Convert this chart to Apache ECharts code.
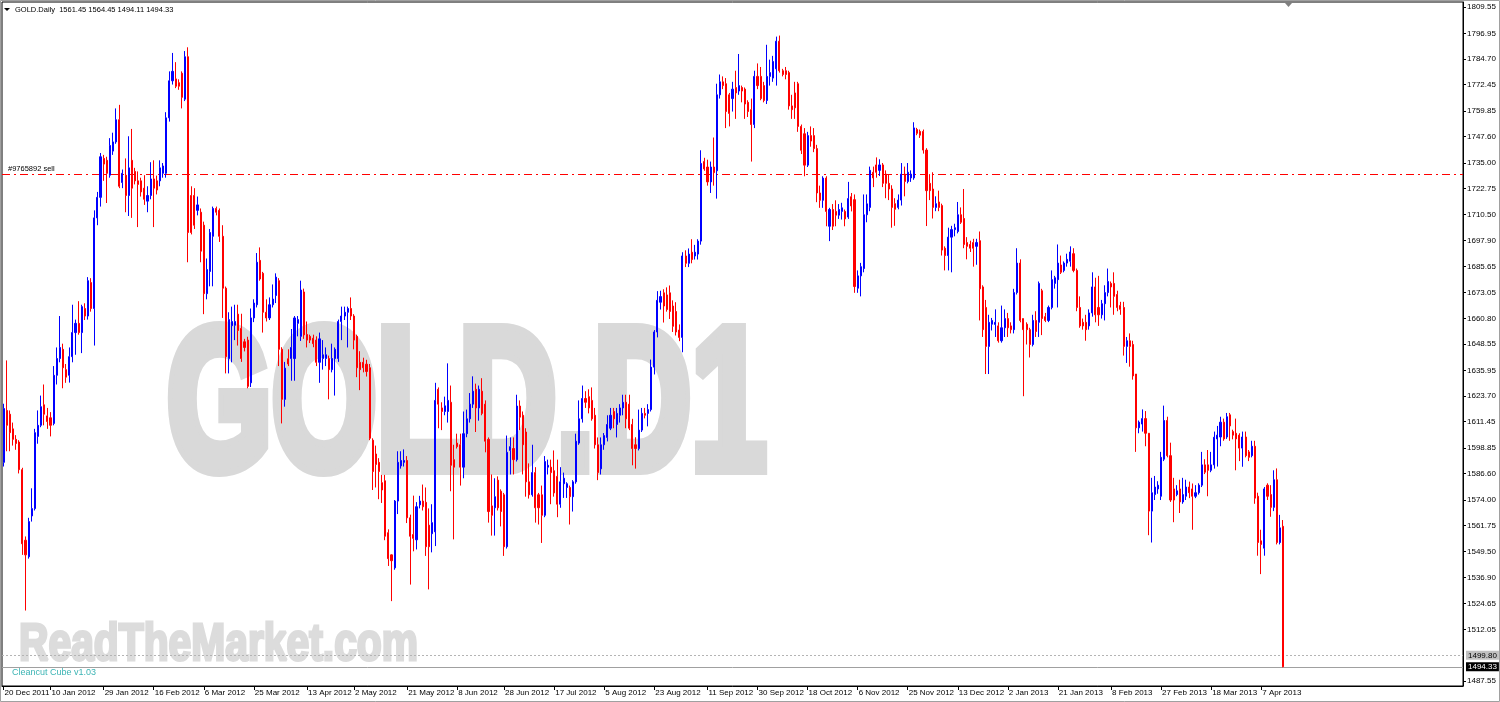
<!DOCTYPE html>
<html><head><meta charset="utf-8">
<script src="https://cdn.jsdelivr.net/npm/echarts@6/dist/echarts.min.js"></script>
<style>html,body{margin:0;padding:0;background:#fff}#c{width:1500px;height:702px}</style>
</head><body><div id="c"></div>
<script>
// rows: [open, high, low, close]
const barsA = [
[1592.0,1620.0,1590.0,1617.7],[1616.8,1640.7,1597.3,1609.7],[1615.0,1616.8,1597.3,1606.2],[1608.0,1611.0,1600.0,1603.0],[1603.0,1605.0,1598.0,1601.0],
[1601.7,1602.6,1586.7,1588.5],[1588.5,1589.4,1547.8,1553.1],[1554.8,1556.6,1521.2,1547.8],[1546.9,1565.5,1546.0,1563.7],[1566.4,1579.6,1563.7,1569.9],
[1569.9,1608.0,1569.0,1606.2],[1604.4,1616.8,1600.9,1609.7],[1609.7,1623.9,1608.8,1618.6],[1619.5,1629.2,1609.7,1615.0],[1614.2,1618.0,1608.0,1611.5],
[1613.3,1616.0,1604.4,1609.7],[1610.6,1638.0,1609.7,1633.6],[1633.6,1646.9,1629.2,1641.6],[1641.6,1661.9,1639.8,1646.9],[1646.0,1648.7,1627.4,1637.2],
[1636.3,1639.0,1630.0,1632.7],[1633.6,1646.9,1630.1,1642.5],[1642.5,1667.3,1639.8,1654.0],[1654.0,1660.2,1643.4,1658.4],[1658.4,1669.0,1653.0,1654.0],
[1654.0,1667.3,1644.2,1666.4],[1665.5,1668.0,1660.0,1661.9],[1661.9,1680.5,1660.2,1678.8],[1677.9,1680.0,1664.0,1665.5],[1665.5,1712.4,1647.8,1708.8],
[1708.8,1721.2,1705.3,1718.6],[1718.6,1739.8,1714.2,1738.0],[1737.2,1738.9,1726.5,1734.5],[1736.3,1738.0,1715.9,1730.1],[1729.2,1746.9,1728.0,1743.4],
[1740.7,1749.5,1738.9,1745.1],[1745.1,1761.1,1744.2,1755.7],[1755.7,1762.8,1723.0,1723.9],[1725.7,1731.9,1723.0,1730.1],[1729.2,1737.2,1711.5,1719.5],
[1719.5,1747.8,1709.7,1732.7],[1736.3,1751.3,1708.8,1723.0],[1731.0,1732.7,1724.8,1726.5],[1726.5,1731.0,1704.4,1724.8],[1726.5,1728.0,1719.0,1721.2],
[1723.0,1729.2,1715.0,1717.7],[1716.8,1723.9,1711.5,1719.5],[1719.5,1735.4,1717.7,1727.4],[1727.4,1736.3,1704.4,1723.0],[1726.5,1729.0,1720.0,1722.1],
[1726.5,1736.3,1723.9,1732.7],[1730.1,1735.0,1728.0,1733.6],[1730.1,1759.3,1728.0,1756.6],[1756.6,1778.8,1754.8,1774.3],[1774.3,1787.6,1772.5,1778.8],
[1775.2,1783.2,1770.8,1771.7],[1773.4,1775.0,1770.0,1771.7],[1777.9,1778.8,1761.1,1766.4],[1765.5,1788.5,1764.6,1785.8],[1785.8,1790.3,1687.6,1701.8],
[1719.5,1723.9,1700.9,1701.8],[1719.5,1723.0,1703.5,1705.3],[1712.4,1719.0,1710.0,1715.0],[1711.5,1713.3,1687.6,1692.9],[1705.3,1707.0,1662.8,1672.6],
[1672.6,1689.4,1669.9,1684.1],[1683.2,1703.5,1676.1,1701.8],[1700.0,1714.2,1676.1,1713.3],[1713.3,1714.2,1710.0,1711.5],[1712.4,1713.3,1697.3,1700.0],
[1700.0,1705.3,1661.0,1675.2],[1675.2,1676.0,1634.5,1642.5],[1641.6,1663.7,1634.5,1660.2],[1657.3,1666.4,1639.8,1659.3],[1657.5,1667.3,1650.4,1659.3],
[1662.8,1667.3,1647.8,1655.0],[1656.0,1663.0,1640.0,1641.6],[1649.6,1651.0,1645.0,1646.9],[1650.4,1652.0,1627.4,1628.3],[1630.0,1665.5,1628.0,1661.0],
[1661.0,1669.9,1659.0,1668.1],[1667.3,1692.0,1666.0,1687.6],[1688.5,1694.7,1678.8,1679.6],[1682.3,1683.0,1654.0,1663.7],[1663.7,1669.9,1659.3,1661.0],
[1661.0,1670.8,1660.0,1667.3],[1667.3,1677.0,1666.0,1670.0],[1671.7,1682.3,1668.1,1680.5],[1678.8,1680.0,1638.0,1646.0],[1646.0,1647.0,1610.6,1622.1],
[1622.1,1640.0,1618.6,1637.0],[1641.5,1646.0,1638.0,1639.0],[1641.6,1655.7,1631.0,1646.9],[1641.6,1661.9,1631.0,1661.0],[1658.4,1661.9,1652.2,1660.2],
[1652.2,1678.8,1650.0,1674.3],[1673.4,1675.0,1651.0,1652.9],[1653.1,1659.3,1646.9,1650.4],[1652.2,1653.0,1649.0,1650.4],[1651.3,1653.0,1647.0,1648.7],
[1650.4,1652.2,1638.0,1639.8],[1639.8,1654.0,1630.0,1651.0],[1641.6,1650.4,1636.3,1643.4],[1641.6,1646.9,1638.0,1643.4],[1641.6,1643.0,1622.1,1636.3],
[1636.3,1648.7,1635.0,1641.6],[1641.6,1646.9,1623.9,1646.0],[1641.6,1660.2,1640.0,1659.3],[1659.3,1666.4,1650.4,1661.9],[1661.9,1666.4,1660.0,1663.7],
[1663.7,1666.4,1646.9,1665.5],[1665.5,1670.8,1660.0,1661.9],[1661.9,1662.8,1646.0,1650.4],[1652.2,1653.0,1632.7,1637.2],[1639.8,1645.1,1626.5,1636.3],
[1639.8,1642.0,1635.0,1637.2],[1638.9,1641.0,1633.0,1635.4],[1637.2,1639.0,1602.6,1603.5],[1602.6,1603.5,1578.8,1587.6],[1596.0,1600.0,1580.0,1591.0],
[1592.0,1594.0,1574.4,1587.6],[1582.3,1586.0,1572.6,1578.8],[1583.2,1586.0,1554.8,1556.7],[1558.4,1560.0,1542.5,1546.0],[1547.8,1548.0,1525.7,1545.0],
[1541.6,1574.0,1540.7,1573.5],[1573.5,1597.3,1567.3,1592.0],[1590.3,1597.3,1589.0,1592.9],[1592.0,1598.2,1590.0,1592.9],[1592.9,1595.0,1563.0,1565.5],
[1565.5,1567.0,1533.6,1556.7],[1557.5,1576.1,1549.5,1555.7],[1555.0,1573.0,1550.4,1570.8],[1571.7,1576.0,1570.0,1573.5],[1573.5,1581.4,1569.0,1570.8]
];
const barsB = [
[1572.9,1580.0,1547.3,1551.7],[1562.0,1570.0,1531.3,1551.7],[1557.9,1572.0,1549.0,1563.2],[1558.8,1630.0,1552.0,1621.6],[1626.9,1627.8,1608.3,1619.8],
[1618.0,1620.7,1607.4,1616.3],[1616.3,1623.4,1614.5,1619.0],[1616.3,1639.3,1611.0,1621.6],[1620.7,1628.7,1578.2,1590.6],[1593.3,1600.4,1555.2,1589.7],
[1601.2,1605.7,1598.6,1599.5],[1600.4,1605.7,1580.9,1589.7],[1589.7,1616.3,1584.4,1605.7],[1605.7,1617.2,1604.0,1612.8],[1612.8,1625.1,1611.0,1619.8],
[1619.8,1633.1,1618.0,1626.0],[1626.9,1629.6,1606.5,1618.0],[1618.0,1628.7,1611.9,1626.9],[1626.0,1632.2,1614.5,1615.4],[1619.8,1621.6,1596.8,1602.1],
[1603.0,1603.9,1563.2,1568.5],[1571.2,1586.2,1557.0,1566.7],[1570.3,1584.4,1557.0,1575.6],[1583.5,1585.3,1569.0,1570.3],[1578.2,1579.1,1561.4,1568.5],
[1576.5,1577.4,1547.3,1551.7],[1551.7,1604.8,1550.8,1596.8],[1597.7,1603.9,1586.2,1599.5],[1598.6,1603.9,1586.2,1593.3],[1593.3,1624.3,1592.4,1618.9],
[1618.9,1621.6,1607.4,1613.6],[1614.5,1616.3,1586.2,1600.4],[1606.5,1608.3,1575.6,1582.7],[1582.7,1591.5,1574.7,1576.5],[1576.5,1600.4,1575.6,1587.1],
[1587.1,1589.7,1563.2,1570.3],[1576.5,1577.4,1562.3,1570.3],[1576.5,1580.9,1553.5,1566.7],[1566.7,1595.0,1565.8,1592.4],[1589.7,1593.3,1586.2,1590.6],
[1589.7,1593.3,1572.0,1587.1],[1588.0,1597.7,1575.6,1577.4],[1585.3,1593.3,1565.8,1572.0],[1572.0,1589.7,1570.3,1582.7],[1581.8,1587.1,1575.0,1584.4],
[1580.0,1582.5,1575.0,1581.8],[1580.0,1580.9,1562.3,1575.6],[1575.6,1583.5,1568.5,1582.7],[1582.7,1605.7,1581.8,1602.1],[1601.2,1621.6,1600.4,1612.8],
[1612.8,1628.7,1611.0,1622.5],[1622.5,1626.0,1618.0,1620.7],[1623.4,1626.9,1615.4,1618.0],[1621.6,1627.8,1611.9,1612.8],[1614.5,1618.0,1598.6,1600.4],
[1600.4,1603.9,1583.5,1587.1],[1588.9,1603.9,1586.2,1600.4],[1600.4,1606.0,1598.0,1604.8],[1603.9,1614.5,1602.0,1610.1],[1608.3,1618.0,1607.4,1614.5],
[1616.3,1618.0,1608.3,1612.8],[1610.1,1618.0,1603.9,1615.4],[1614.5,1619.8,1611.0,1618.0],[1618.0,1624.3,1614.5,1620.7],[1620.7,1624.3,1608.3,1612.8],
[1619.8,1624.3,1607.4,1608.3],[1610.1,1612.8,1590.6,1598.6],[1600.4,1604.0,1589.0,1598.6],[1598.6,1617.2,1597.7,1607.4],[1607.4,1618.0,1606.5,1615.4],
[1615.4,1618.0,1613.0,1614.5],[1615.4,1619.8,1609.2,1617.2],[1617.2,1641.1,1616.3,1637.5],[1637.5,1655.2,1634.0,1654.3],[1654.3,1673.8,1651.7,1669.4],
[1668.5,1674.0,1665.0,1671.2],[1673.0,1674.7,1658.8,1666.7],[1672.0,1675.6,1664.0,1665.0],[1673.0,1676.5,1660.5,1664.1],[1666.7,1669.4,1654.3,1657.0],
[1664.1,1668.5,1652.6,1654.3],[1655.2,1657.9,1649.9,1651.7],[1651.7,1692.4,1644.6,1690.6],[1690.6,1693.3,1685.3,1687.1],[1687.1,1694.2,1685.3,1691.5],
[1692.4,1698.6,1687.1,1688.9],[1690.6,1695.9,1688.9,1692.4],[1691.5,1698.6,1688.9,1697.7],[1697.7,1741.1,1696.0,1734.8],[1735.7,1737.5,1731.3,1732.2],
[1733.1,1736.6,1724.2,1726.0],[1726.0,1735.7,1720.7,1733.1],[1733.1,1747.2,1724.2,1730.4],[1731.3,1772.9,1718.0,1767.6],[1767.6,1777.3,1765.8,1773.8],
[1773.8,1776.4,1770.3,1772.0],[1772.9,1775.6,1751.7,1759.6],[1767.6,1768.5,1752.5,1758.7],[1765.8,1773.8,1759.6,1770.3],[1771.1,1779.1,1756.1,1768.5],
[1769.4,1787.1,1767.6,1772.0],[1771.1,1772.0,1764.0,1769.4],[1770.3,1771.1,1756.1,1763.2],[1764.0,1765.0,1757.0,1759.6],[1760.5,1765.8,1735.7,1753.4],
[1753.4,1779.1,1751.7,1776.4],[1776.4,1782.6,1770.3,1772.0],[1776.4,1780.9,1765.0,1765.8],[1772.0,1773.8,1764.0,1764.9],[1764.9,1791.5,1763.2,1776.4],
[1776.4,1784.4,1772.0,1778.2],[1775.6,1786.2,1773.8,1783.5],[1780.0,1795.4,1772.0,1793.2],[1793.2,1795.9,1778.2,1779.1],[1779.1,1780.0,1776.4,1777.3],
[1779.1,1780.9,1775.0,1777.3],[1778.2,1779.1,1760.5,1762.3],[1762.3,1767.6,1756.1,1760.5],[1768.5,1773.8,1756.1,1761.4],[1772.9,1773.8,1749.9,1752.5],
[1752.5,1753.4,1739.3,1741.1],[1749.0,1751.7,1728.7,1734.0],[1734.0,1749.9,1733.1,1748.1],[1748.1,1752.5,1742.8,1745.5],[1748.1,1751.7,1740.2,1741.9],
[1741.9,1743.7,1716.3,1720.7],[1720.7,1724.2,1713.6,1717.2],[1717.2,1728.7,1713.6,1727.8],[1727.8,1728.7,1704.8,1711.9],[1704.8,1713.6,1697.7,1712.8],
[1712.8,1715.4,1703.0,1704.8],[1711.9,1717.2,1704.8,1710.1],[1710.1,1715.4,1708.3,1712.8],[1711.9,1716.0,1708.0,1713.6],[1711.9,1712.8,1704.8,1708.3],
[1709.2,1726.0,1708.3,1718.0],[1718.9,1720.7,1711.9,1714.5],[1717.5,1720.0,1673.0,1676.0]
];
const barsC = [
[1675.2,1683.7,1673.0,1681.1],[1681.1,1687.3,1671.3,1685.5],[1684.6,1720.0,1682.8,1710.3],[1710.3,1720.0,1706.7,1715.5],[1713.8,1733.3,1712.0,1731.5],
[1730.6,1733.3,1723.5,1727.9],[1734.1,1737.7,1728.0,1730.6],[1731.5,1736.8,1728.8,1734.1],[1734.1,1735.0,1723.5,1725.3],[1729.7,1731.5,1718.2,1725.3],
[1725.3,1729.7,1717.3,1722.6],[1722.6,1724.4,1704.1,1713.8],[1715.6,1718.2,1705.0,1712.9],[1713.8,1720.0,1712.9,1717.3],[1717.3,1735.0,1714.7,1729.7],
[1729.7,1733.3,1719.1,1726.2],[1726.2,1735.0,1725.3,1730.6],[1727.9,1731.5,1726.0,1729.7],[1727.9,1754.5,1727.0,1751.8],[1751.0,1751.8,1748.3,1749.2],
[1750.1,1751.0,1747.0,1748.3],[1750.1,1751.0,1739.5,1741.2],[1741.2,1742.1,1704.9,1721.8],[1725.3,1729.7,1717.3,1721.8],[1722.6,1730.6,1708.5,1713.8],
[1713.8,1719.1,1712.0,1715.6],[1716.4,1721.8,1712.0,1713.8],[1714.7,1715.6,1690.8,1693.4],[1694.3,1695.2,1683.7,1690.8],[1690.8,1704.1,1683.7,1699.6],
[1699.6,1705.0,1682.8,1703.2],[1703.2,1706.0,1700.0,1704.1],[1702.3,1716.4,1701.4,1710.3],[1710.3,1713.8,1705.9,1706.7],[1708.5,1722.6,1694.3,1696.1],
[1697.0,1699.6,1689.0,1695.2],[1696.1,1697.9,1692.5,1694.3],[1697.0,1698.8,1685.5,1694.3],[1695.2,1698.8,1686.4,1697.0],[1697.9,1702.3,1659.8,1674.9],
[1675.8,1676.6,1651.9,1655.4],[1666.0,1669.6,1634.2,1647.4],[1647.4,1662.5,1634.2,1658.9],[1658.0,1661.0,1655.0,1659.8],[1657.9,1665.1,1651.9,1658.9],
[1657.2,1658.9,1649.2,1650.1],[1650.1,1666.9,1649.2,1656.3],[1656.3,1665.1,1651.9,1660.7],[1660.7,1663.4,1651.9,1656.3],[1657.2,1658.9,1653.6,1655.4],
[1655.4,1674.9,1653.6,1673.1],[1673.1,1694.3,1672.2,1687.2],[1687.2,1689.0,1658.9,1659.8],[1660.7,1660.7,1623.6,1655.4],[1658.0,1658.9,1648.3,1655.4],
[1655.4,1656.3,1642.1,1648.3],[1648.3,1662.5,1647.4,1659.8],[1659.8,1664.2,1651.9,1654.5],[1658.9,1678.4,1651.9,1677.5],[1674.0,1674.9,1652.8,1660.7],
[1661.6,1663.4,1659.0,1659.8],[1659.8,1666.9,1659.0,1666.0],[1666.0,1683.7,1665.1,1679.3],[1677.5,1681.1,1675.0,1680.2],[1679.3,1696.1,1666.0,1687.2],
[1686.3,1690.8,1682.0,1682.8],[1683.7,1688.0,1682.8,1687.2],[1687.2,1691.7,1685.5,1689.0],[1688.1,1695.2,1685.5,1692.5],[1691.7,1694.3,1682.8,1683.7],
[1683.7,1684.6,1664.2,1666.0],[1666.0,1671.3,1656.3,1657.2],[1658.9,1660.7,1655.4,1657.2],[1658.9,1662.5,1650.1,1655.4],[1657.2,1665.1,1655.4,1663.4],
[1663.4,1682.8,1661.6,1675.8],[1675.8,1680.2,1658.9,1662.5],[1666.0,1681.1,1657.2,1662.5],[1662.5,1669.6,1660.7,1667.8],[1667.8,1676.6,1659.8,1673.1],
[1673.1,1684.6,1671.3,1678.4],[1677.5,1678.4,1666.0,1675.8],[1677.5,1682.8,1662.5,1671.3],[1672.2,1674.0,1664.2,1666.0],[1666.9,1668.7,1662.5,1665.1],
[1666.0,1668.7,1643.0,1647.4],[1647.4,1651.9,1639.5,1650.1],[1650.1,1653.6,1637.7,1647.4],[1648.3,1650.1,1631.5,1633.3],[1634.2,1634.2,1597.0,1608.5],
[1608.5,1612.0,1605.9,1611.2],[1610.3,1617.3,1606.7,1612.9],[1612.9,1616.5,1599.7,1605.9],[1605.9,1606.0,1557.2,1568.7],[1568.7,1584.6,1553.7,1577.5],
[1576.6,1585.5,1574.0,1580.2],[1579.3,1583.0,1577.0,1581.1],[1575.8,1597.0,1574.0,1594.4],[1593.5,1619.1,1592.6,1612.0],[1612.0,1613.8,1594.4,1595.2],
[1595.2,1601.4,1573.1,1574.0],[1579.3,1584.6,1563.4,1574.0],[1576.6,1581.1,1575.8,1578.4],[1579.3,1583.7,1567.8,1573.1],[1573.1,1584.6,1572.2,1576.6],
[1575.8,1583.7,1574.0,1580.2],[1580.2,1582.8,1574.9,1577.5],[1579.3,1581.9,1559.8,1575.8],[1575.8,1581.1,1574.9,1577.5],[1577.5,1582.0,1576.6,1581.1],
[1581.1,1597.0,1580.2,1590.8],[1590.8,1593.5,1586.4,1587.3],[1590.8,1597.9,1575.8,1588.2],[1588.2,1597.0,1587.3,1590.8],[1590.8,1606.7,1589.0,1604.0],
[1603.2,1609.4,1590.0,1605.0],[1604.1,1613.8,1599.7,1611.2],[1611.2,1612.9,1602.3,1603.2],[1604.1,1615.6,1603.2,1613.8],[1614.7,1615.6,1602.3,1609.4],
[1606.7,1607.6,1603.0,1605.0],[1605.9,1612.9,1588.2,1603.2],[1605.0,1605.9,1592.6,1598.8],[1598.8,1606.7,1589.9,1604.1],[1604.1,1606.7,1594.4,1595.2],
[1597.0,1597.9,1592.6,1594.4],[1595.2,1602.3,1594.4,1599.7],[1599.7,1602.3,1572.2,1574.9],[1575.8,1577.5,1547.4,1553.7],[1554.5,1559.8,1538.6,1552.8],
[1551.0,1580.2,1547.4,1579.3],[1581.1,1582.0,1574.0,1575.8],[1576.6,1581.1,1566.0,1570.5],[1570.5,1588.2,1568.7,1583.7],[1583.7,1589.1,1552.8,1553.7],
[1553.7,1566.9,1552.8,1560.7],[1561.45,1564.45,1494.11,1494.33]
];
const emptySlots = 57; // chart shift space on the right
const tickIndex = [0,15,32,48,64,80,97,112,129,145,160,176,192,208,225,241,257,273,289,305,321,337,354,370,386,402];
const tickLabels = ['20 Dec 2011','10 Jan 2012','29 Jan 2012','16 Feb 2012','6 Mar 2012','25 Mar 2012','13 Apr 2012','2 May 2012','21 May 2012','8 Jun 2012','28 Jun 2012','17 Jul 2012','5 Aug 2012','23 Aug 2012','11 Sep 2012','30 Sep 2012','18 Oct 2012','6 Nov 2012','25 Nov 2012','13 Dec 2012','2 Jan 2013','21 Jan 2013','8 Feb 2013','27 Feb 2013','18 Mar 2013','7 Apr 2013'];
const priceTicks = [1809.55,1796.95,1784.70,1772.45,1759.85,1747.60,1735.00,1722.75,1710.50,1697.90,1685.65,1673.05,1660.80,1648.55,1635.95,1623.70,1611.45,1598.85,1586.60,1574.00,1561.75,1549.50,1536.90,1524.65,1512.05,1487.55];
const sellLevel = 1729.76;
const askLevel = 1499.80;
const bidLevel = 1494.33;
const headerText = 'GOLD.Daily  1561.45 1564.45 1494.11 1494.33';

const bars = barsA.concat(barsB, barsC);
const total = bars.length + emptySlots;
const categories = [];
for (let i = 0; i < total; i++) categories.push(String(i));
const tickMap = new Map(tickIndex.map((v, i) => [v, tickLabels[i]]));
const candleData = bars.map(([o, h, l, c]) => [o, c, Math.min(l, o, c), Math.max(h, o, c)]);
const FONT = 'Liberation Sans, Arial, sans-serif';

const chart = echarts.init(document.getElementById('c'), null, {renderer: 'canvas'});
chart.setOption({
  animation: false,
  backgroundColor: '#ffffff',
  grid: {left: 2, right: 37, top: 2, bottom: 16, show: true, borderColor: '#000', borderWidth: 1, backgroundColor: 'transparent'},
  xAxis: {
    type: 'category', data: categories, boundaryGap: true,
    axisLine: {show: true, lineStyle: {color: '#000', width: 1}},
    axisTick: {show: true, interval: (i) => tickMap.has(i), alignWithLabel: true, length: 4, lineStyle: {color: '#000'}},
    axisLabel: {interval: (i) => tickMap.has(i), formatter: (v, i) => tickMap.get(i) || '', align: 'left', margin: 3,
      fontSize: 8, fontFamily: FONT, color: '#000', padding: [0, 0, 0, 1]},
    splitLine: {show: false}
  },
  yAxis: {
    type: 'value', position: 'right', min: 1485.15, max: 1811.94,
    axisLine: {show: true, lineStyle: {color: '#000', width: 1}},
    axisTick: {show: true, customValues: priceTicks, length: 3, lineStyle: {color: '#000'}},
    axisLabel: {customValues: priceTicks, formatter: (v) => Number(v).toFixed(2), margin: 4, fontSize: 8, fontFamily: FONT, color: '#000'},
    splitLine: {show: false}
  },
  series: [{
    type: 'candlestick', data: candleData, barWidth: 1.6, z: 5,
    itemStyle: {color: '#0000ff', color0: '#ff0000', borderColor: '#0000ff', borderColor0: '#ff0000', borderWidth: 1},
    markLine: {
      silent: true, symbol: 'none', animation: false,
      data: [
        {yAxis: sellLevel, lineStyle: {color: '#ff0000', type: [8, 4, 2, 4], width: 1},
          label: {show: true, position: 'insideStartTop', formatter: '#9765892 sell', fontSize: 7.5, fontFamily: FONT, color: '#000', distance: [6, 1]}},
        {yAxis: askLevel, lineStyle: {color: '#b4b4b4', type: [2, 2], width: 1},
          label: {show: true, position: 'end', distance: 3, formatter: '1499.80', fontSize: 8, fontFamily: FONT, color: '#000', backgroundColor: '#c0c0c0', padding: [1, 2, 0, 2]}},
        {yAxis: bidLevel, lineStyle: {color: '#a0a0a0', type: 'solid', width: 1},
          label: {show: true, position: 'end', distance: 3, formatter: '1494.33', fontSize: 8, fontFamily: FONT, color: '#fff', backgroundColor: '#000', padding: [1, 2, 0, 2]}}
      ]
    }
  }],
  graphic: [
    {type: 'text', x: 167, y: 413, scaleX: 0.674, z: 0, silent: true,
      style: {text: 'GOLD.D1', x: 0, y: 0, font: 'bold 200px "Liberation Sans", Arial, sans-serif', fill: '#d9d9d9',
        stroke: '#d9d9d9', lineWidth: 14, lineJoin: 'round', textAlign: 'left', textVerticalAlign: 'middle'}},
    {type: 'text', x: 19, y: 646, scaleX: 0.8, z: 0, silent: true,
      style: {text: 'ReadTheMarket.com', x: 0, y: 0, font: 'bold 51px "Liberation Sans", Arial, sans-serif', fill: '#dcdcdc',
        stroke: '#dcdcdc', lineWidth: 3, lineJoin: 'round', textAlign: 'left', textVerticalAlign: 'middle'}},
    {type: 'text', x: 12, y: 673, z: 10, silent: true,
      style: {text: 'Cleancut Cube v1.03', x: 0, y: 0, font: '9px ' + FONT, fill: '#3cb4b4', textAlign: 'left', textVerticalAlign: 'middle'}},
    {type: 'polygon', z: 10, silent: true, shape: {points: [[4, 8], [10, 8], [7, 11]]}, style: {fill: '#000'}},
    {type: 'text', x: 15, y: 10, z: 10, silent: true,
      style: {text: headerText, x: 0, y: 0, font: '7.5px ' + FONT, fill: '#000', textAlign: 'left', textVerticalAlign: 'middle'}},
    {type: 'polygon', z: 10, silent: true, shape: {points: [[1285, 3], [1292, 3], [1288.5, 7]]}, style: {fill: '#808080'}},
    {type: 'rect', z: 10, silent: true, shape: {x: 0.5, y: 0.5, width: 1499, height: 701}, style: {fill: 'none', stroke: '#a0a0a0', lineWidth: 1}}
  ]
});
</script>
</body></html>
